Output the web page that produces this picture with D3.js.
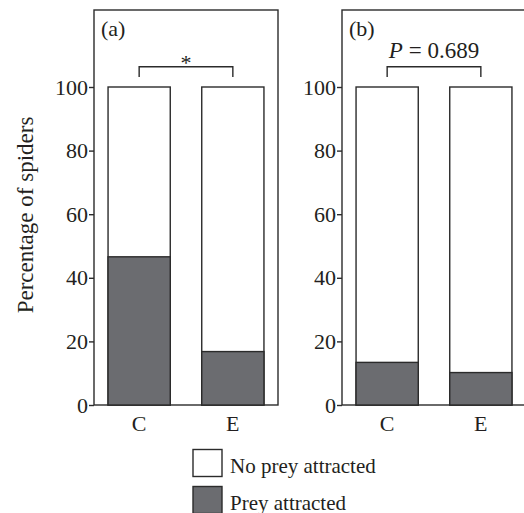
<!DOCTYPE html>
<html><head><meta charset="utf-8">
<script src="https://cdn.jsdelivr.net/npm/d3@7"></script>
<style>body{margin:0;background:#fff}svg{display:block}text{font-family:"Liberation Serif","DejaVu Serif",serif;fill:#231f20}</style>
</head><body>
<svg id="c" width="524" height="513"></svg>
<script>
const categories = ["C", "E"];
const panelLabels = ["(a)", "(b)"];
const preyA = [46.6, 16.8];
const preyB = [13.4, 10.2];
const yTicks = [0, 20, 40, 60, 80, 100];
const annotations = ["*", "P = 0.689"];
const legendLabels = ["No prey attracted", "Prey attracted"];

const svg = d3.select("#c");
const ink = "#2b2b2b", dark = "#6b6c70";
const fs = 22;
const yTop = 10, yBottom = 405;
const y = d3.scaleLinear().domain([0, 100]).range([405, 87]);
const panelW = 184;
const panels = [{left: 94, data: preyA, label: panelLabels[0], ann: annotations[0]},
                {left: 342, data: preyB, label: panelLabels[1], ann: annotations[1]}];

panels.forEach((p, pi) => {
  const x = d3.scaleBand().domain(categories).range([p.left, p.left + panelW])
    .paddingInner(0.336).paddingOuter(0.15);
  const g = svg.append("g");
  g.append("rect").attr("x", p.left).attr("y", yTop).attr("width", panelW).attr("height", yBottom - yTop)
    .attr("fill", "none").attr("stroke", ink).attr("stroke-width", 1.4);
  const ax = g.append("g").attr("transform", `translate(${p.left},0)`)
    .call(d3.axisLeft(y).tickValues(yTicks).tickSize(5).tickPadding(1));
  ax.select(".domain").remove();
  ax.selectAll("line").attr("stroke", ink).attr("stroke-width", 1.4);
  ax.selectAll("text").attr("font-size", fs).attr("font-family", "Liberation Serif").attr("fill", "#231f20");
  const xa = g.append("g").attr("transform", `translate(0,${yBottom})`)
    .call(d3.axisBottom(x).tickSize(0).tickPadding(10));
  xa.select(".domain").remove();
  xa.selectAll("text").attr("font-size", fs).attr("font-family", "Liberation Serif").attr("fill", "#231f20");
  const data = categories.map((c, i) => ({c, v: p.data[i]}));
  g.selectAll(".bw").data(data).join("rect")
    .attr("x", d => x(d.c)).attr("width", x.bandwidth())
    .attr("y", y(100)).attr("height", y(0) - y(100))
    .attr("fill", "#fff").attr("stroke", ink).attr("stroke-width", 1.4);
  g.selectAll(".bd").data(data).join("rect")
    .attr("x", d => x(d.c)).attr("width", x.bandwidth())
    .attr("y", d => y(d.v)).attr("height", d => y(0) - y(d.v))
    .attr("fill", dark).attr("stroke", ink).attr("stroke-width", 1.4);
  g.append("text").attr("x", p.left + 7).attr("y", 36).attr("font-size", fs).text(p.label);
  const cx0 = x(categories[0]) + x.bandwidth() / 2, cx1 = x(categories[1]) + x.bandwidth() / 2;
  g.append("path").attr("d", `M${cx0},77V66.7H${cx1}V77`).attr("fill", "none")
    .attr("stroke", ink).attr("stroke-width", 1.4);
  const mid = (cx0 + cx1) / 2;
  if (pi === 0) {
    g.append("text").attr("x", mid).attr("y", 70).attr("text-anchor", "middle").attr("font-size", fs).text(p.ann);
  } else {
    const t = g.append("text").attr("x", mid).attr("y", 58).attr("text-anchor", "middle").attr("font-size", 23);
    t.append("tspan").attr("font-style", "italic").text(p.ann.slice(0, 1));
    t.append("tspan").text(p.ann.slice(1));
  }
});

svg.append("text").attr("transform", "translate(33,215) rotate(-90)").attr("text-anchor", "middle")
  .attr("font-size", 23).text("Percentage of spiders");

const lg = svg.append("g");
const legFill = ["#fff", dark];
legendLabels.forEach((l, i) => {
  const ly = 449.5 + i * 37;
  lg.append("rect").attr("x", 193).attr("y", ly).attr("width", 29).attr("height", 27)
    .attr("fill", legFill[i]).attr("stroke", ink).attr("stroke-width", 1.4);
  lg.append("text").attr("x", 230).attr("y", ly + 23).attr("font-size", 21).text(l);
});
</script>
</body></html>
